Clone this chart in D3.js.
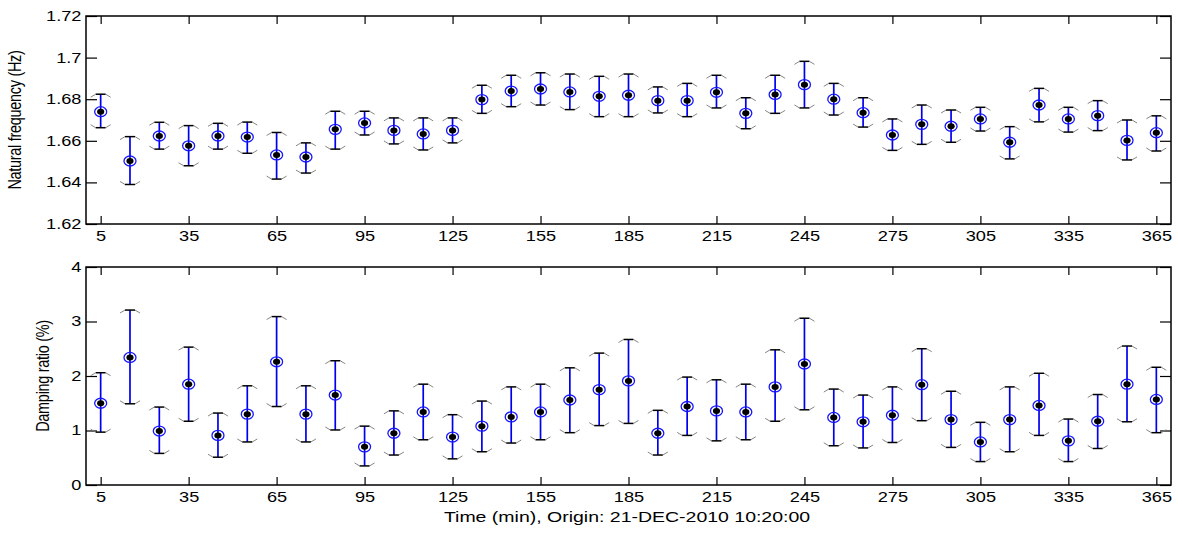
<!DOCTYPE html>
<html>
<head>
<meta charset="utf-8">
<script src="https://cdn.jsdelivr.net/npm/d3@7"></script>
<style>
  body { margin: 0; background: #fff; }
  text { font-family: "Liberation Sans", Arial, sans-serif; fill: #000; }
</style>
</head>
<body>
<div id="chart"></div>
<script>
// sample times (min)
const times = [5, 15, 25, 35, 45, 55, 65, 75, 85, 95, 105, 115, 125, 135, 145, 155, 165, 175, 185,
               195, 205, 215, 225, 235, 245, 255, 265, 275, 285, 295, 305, 315, 325, 335, 345, 355, 365];

// natural frequency (Hz): estimate, lower, upper
const freqMean = [1.6740, 1.6503, 1.6623, 1.6576, 1.6623, 1.6618, 1.6532, 1.6522, 1.6655, 1.6686,
                  1.6650, 1.6633, 1.6650, 1.6798, 1.6839, 1.6849, 1.6835, 1.6814, 1.6819, 1.6793,
                  1.6793, 1.6833, 1.6732, 1.6823, 1.6870, 1.6800, 1.6735, 1.6628, 1.6679, 1.6670,
                  1.6705, 1.6593, 1.6772, 1.6705, 1.6721, 1.6602, 1.6639];
const freqLow  = [1.6663, 1.6390, 1.6560, 1.6480, 1.6560, 1.6540, 1.6416, 1.6445, 1.6560, 1.6628,
                  1.6585, 1.6556, 1.6590, 1.6732, 1.6764, 1.6772, 1.6750, 1.6716, 1.6716, 1.6734,
                  1.6716, 1.6758, 1.6658, 1.6732, 1.6758, 1.6724, 1.6666, 1.6554, 1.6583, 1.6593,
                  1.6647, 1.6513, 1.6691, 1.6642, 1.6649, 1.6508, 1.6551];
const freqHigh = [1.6824, 1.6620, 1.6689, 1.6673, 1.6684, 1.6690, 1.6640, 1.6590, 1.6742, 1.6742,
                  1.6710, 1.6710, 1.6710, 1.6867, 1.6915, 1.6927, 1.6921, 1.6910, 1.6921, 1.6859,
                  1.6876, 1.6915, 1.6807, 1.6915, 1.6982, 1.6876, 1.6807, 1.6705, 1.6772, 1.6748,
                  1.6761, 1.6668, 1.6852, 1.6761, 1.6793, 1.6700, 1.6720];

// damping ratio (%): estimate, lower, upper
const dampMean = [1.50, 2.34, 0.99, 1.85, 0.91, 1.30, 2.26, 1.30, 1.65, 0.70,
                  0.95, 1.34, 0.88, 1.08, 1.25, 1.34, 1.56, 1.75, 1.91, 0.95,
                  1.44, 1.36, 1.34, 1.80, 2.22, 1.24, 1.16, 1.28, 1.84, 1.20,
                  0.79, 1.20, 1.46, 0.81, 1.17, 1.85, 1.57];
const dampLow  = [0.97, 1.49, 0.58, 1.17, 0.51, 0.79, 1.44, 0.79, 1.01, 0.35,
                  0.55, 0.83, 0.48, 0.61, 0.77, 0.83, 0.96, 1.09, 1.13, 0.55,
                  0.91, 0.81, 0.83, 1.17, 1.38, 0.72, 0.68, 0.78, 1.18, 0.69,
                  0.43, 0.61, 0.91, 0.43, 0.67, 1.16, 0.96];
const dampHigh = [2.06, 3.21, 1.43, 2.53, 1.32, 1.82, 3.09, 1.82, 2.28, 1.08,
                  1.36, 1.85, 1.29, 1.54, 1.80, 1.85, 2.15, 2.42, 2.67, 1.37,
                  1.98, 1.93, 1.85, 2.48, 3.06, 1.76, 1.65, 1.80, 2.50, 1.72,
                  1.15, 1.80, 2.05, 1.21, 1.66, 2.55, 2.16];

const xTicks = [5, 35, 65, 95, 125, 155, 185, 215, 245, 275, 305, 335, 365];
const freqTicks = [1.62, 1.64, 1.66, 1.68, 1.70, 1.72];
const dampTicks = [0, 1, 2, 3, 4];

const W = 1178, H = 534;
const stretch = 1.3;   // the source image is widened horizontally

const svg = d3.select('#chart').append('svg')
    .attr('width', W)
    .attr('height', H);

const x = d3.scaleLinear().domain([0, 370]).range([86, 1171]);

function panel(top, bottom, domain, yTicks, mean, low, high, label, labelX) {
  const y = d3.scaleLinear().domain(domain).range([bottom, top]);
  const g = svg.append('g');

  // ticks on all four sides, pointing inward
  g.append('g')
      .attr('transform', 'translate(0,' + bottom + ')')
      .call(d3.axisBottom(x).tickValues(xTicks).tickSizeInner(-8).tickSizeOuter(0).tickPadding(7));
  g.append('g')
      .attr('transform', 'translate(0,' + top + ')')
      .call(d3.axisTop(x).tickValues(xTicks).tickSizeInner(-8).tickSizeOuter(0).tickFormat(''));
  g.append('g')
      .attr('transform', 'translate(' + x.range()[0] + ',0)')
      .call(d3.axisLeft(y).tickValues(yTicks).tickSizeInner(-11).tickSizeOuter(0).tickPadding(3.5)
        .tickFormat(d3.format('')));
  g.append('g')
      .attr('transform', 'translate(' + x.range()[1] + ',0)')
      .call(d3.axisRight(y).tickValues(yTicks).tickSizeInner(-11).tickSizeOuter(0).tickFormat(''));

  g.selectAll('.domain').remove();
  g.selectAll('.tick line').attr('stroke', '#000').attr('stroke-width', 1.2);
  g.selectAll('.tick text')
      .attr('font-size', 14)
      .attr('font-family', '"Liberation Sans", Arial, sans-serif')
      .attr('fill', '#000')
      .attr('transform', 'scale(' + stretch + ',1)');

  g.append('rect')
      .attr('x', x.range()[0]).attr('y', top)
      .attr('width', x.range()[1] - x.range()[0]).attr('height', bottom - top)
      .attr('fill', 'none').attr('stroke', '#000').attr('stroke-width', 1.5);

  const rows = times.map((t, i) => ({ t: t, m: mean[i], lo: low[i], hi: high[i] }));
  const bars = g.append('g').selectAll('g').data(rows).enter().append('g');

  bars.append('line')
      .attr('x1', d => x(d.t)).attr('x2', d => x(d.t))
      .attr('y1', d => y(d.lo)).attr('y2', d => y(d.hi))
      .attr('stroke', '#0000ee').attr('stroke-width', 1.7);

  // caps: black centre with grey wings bending toward the estimate
  [['hi', 1], ['lo', -1]].forEach(([key, dir]) => {
    bars.append('line')
        .attr('x1', d => x(d.t) - 5).attr('x2', d => x(d.t) + 5)
        .attr('y1', d => y(d[key])).attr('y2', d => y(d[key]))
        .attr('stroke', '#000').attr('stroke-width', 1.5);
    bars.append('path')
        .attr('d', d => {
          const cx = x(d.t), cy = y(d[key]);
          return 'M' + (cx - 10) + ',' + (cy + 3 * dir) + 'L' + (cx - 5) + ',' + cy +
                 'M' + (cx + 10) + ',' + (cy + 3 * dir) + 'L' + (cx + 5) + ',' + cy;
        })
        .attr('fill', 'none').attr('stroke', '#777').attr('stroke-width', 0.9);
  });

  bars.append('ellipse')
      .attr('cx', d => x(d.t)).attr('cy', d => y(d.m))
      .attr('rx', 6).attr('ry', 5)
      .attr('fill', 'none').attr('stroke', '#1515ff').attr('stroke-width', 1.3);
  bars.append('ellipse')
      .attr('cx', d => x(d.t)).attr('cy', d => y(d.m))
      .attr('rx', 3.6).attr('ry', 3)
      .attr('fill', '#000');

  g.append('text')
      .attr('transform', 'translate(' + labelX + ',' + ((top + bottom) / 2) + ') rotate(-90) scale(1,' + stretch + ')')
      .attr('text-anchor', 'middle')
      .attr('font-size', 14.5)
      .attr('letter-spacing', -0.3)
      .text(label);
}

panel(16, 224, [1.62, 1.72], freqTicks, freqMean, freqLow, freqHigh, 'Natural frequency (Hz)', 21);
panel(267, 485, [0, 4], dampTicks, dampMean, dampLow, dampHigh, 'Damping ratio (%)', 49);

svg.append('text')
    .attr('transform', 'translate(627,522) scale(' + stretch + ',1)')
    .attr('text-anchor', 'middle')
    .attr('font-size', 15)
    .text('Time (min), Origin: 21-DEC-2010 10:20:00');
</script>
</body>
</html>
